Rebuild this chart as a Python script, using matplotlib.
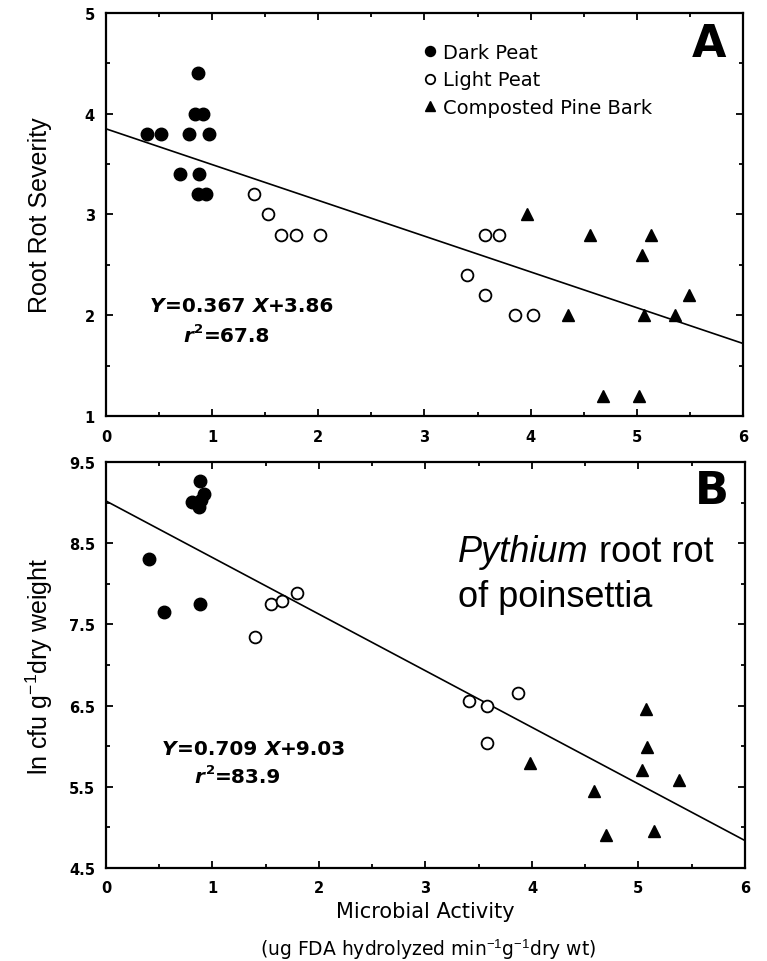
import matplotlib.pyplot as plt
import numpy as np

plt.rcParams['mathtext.fontset'] = 'custom'
plt.rcParams['mathtext.rm'] = 'Liberation Sans'
plt.rcParams['mathtext.it'] = 'Liberation Sans:italic'
plt.rcParams['mathtext.bf'] = 'Liberation Sans:bold'

# panel A: root rot severity vs microbial activity
dark_a_x = [0.39, 0.52, 0.78, 0.97, 0.84, 0.91, 0.87, 0.70, 0.875, 0.87, 0.94]
dark_a_y = [3.8, 3.8, 3.8, 3.8, 4.0, 4.0, 4.4, 3.4, 3.4, 3.2, 3.2]
light_a_x = [1.39, 1.53, 1.65, 1.79, 2.02, 3.57, 3.70, 3.40, 3.57, 3.85, 4.02]
light_a_y = [3.2, 3.0, 2.8, 2.8, 2.8, 2.8, 2.8, 2.4, 2.2, 2.0, 2.0]
bark_a_x = [3.97, 4.56, 5.13, 5.05, 5.49, 4.35, 5.07, 5.36, 4.68, 5.02]
bark_a_y = [3.0, 2.8, 2.8, 2.6, 2.2, 2.0, 2.0, 2.0, 1.2, 1.2]
fit_a = (3.85, -0.355)

# panel B: ln cfu per g dry weight vs microbial activity
dark_b_x = [0.885, 0.81, 0.92, 0.87, 0.89, 0.405, 0.546, 0.885]
dark_b_y = [9.27, 9.01, 9.11, 8.94, 9.03, 8.31, 7.65, 7.75]
light_b_x = [1.40, 1.545, 1.65, 1.795, 3.41, 3.58, 3.58, 3.87]
light_b_y = [7.34, 7.75, 7.79, 7.89, 6.56, 6.49, 6.04, 6.65]
bark_b_x = [5.07, 5.08, 5.03, 5.38, 3.98, 4.58, 4.70, 5.15]
bark_b_y = [6.46, 5.99, 5.71, 5.58, 5.79, 5.45, 4.90, 4.96]
fit_b = (9.02, -0.697)

series_labels = ['Dark Peat', 'Light Peat', 'Composted Pine Bark']
x_ticks = [0, 1, 2, 3, 4, 5, 6]
a_yticks = [1, 2, 3, 4, 5]
b_yticks = [4.5, 5.5, 6.5, 7.5, 8.5, 9.5]

fig = plt.figure(figsize=(7.67, 9.62), dpi=100)
ax_a = fig.add_axes([0.1382, 0.5665, 0.8305, 0.419])
ax_b = fig.add_axes([0.1382, 0.0967, 0.8330, 0.422])


def draw_points(ax, dx, dy, lx, ly, tx, ty, fit):
    h1, = ax.plot(dx, dy, 'o', ms=9, color='black', ls='none')
    h2, = ax.plot(lx, ly, 'o', ms=8.5, mfc='white', mec='black', mew=1.3, ls='none')
    h3, = ax.plot(tx, ty, '^', ms=9, color='black', ls='none')
    xs = np.array([0, 6])
    ax.plot(xs, fit[0] + fit[1] * xs, color='black', lw=1.2, zorder=1)
    return [h1, h2, h3]


def style_axes(ax, yticks, ylo, yhi):
    ax.set_xlim(0, 6)
    ax.set_ylim(ylo, yhi)
    ax.set_xticks(x_ticks)
    ax.set_xticks(np.arange(0.5, 6, 1.0), minor=True)
    ax.set_yticks(yticks)
    ax.set_yticks(np.array(yticks[:-1]) + 0.5, minor=True)
    ax.tick_params(which='both', direction='in', top=True, right=True,
                   width=1.3, labelsize=10.5)
    ax.tick_params(which='major', length=5)
    ax.tick_params(which='minor', length=3)
    ax.tick_params(axis='x', pad=9)
    ax.tick_params(axis='y', pad=8)
    for lab in ax.get_xticklabels() + ax.get_yticklabels():
        lab.set_fontweight('bold')
    for sp in ax.spines.values():
        sp.set_linewidth(1.6)


def equation(ax, x, y, x2, y2, slope, icpt, r2):
    fs = 14.5
    kw = dict(fontsize=fs, fontweight='bold', va='bottom')
    t = ax.text(x, y, 'Y', transform=ax.transAxes, style='italic', **kw)
    t = ax.annotate('=' + slope + ' ', xy=(1, 0), xycoords=t, **kw)
    t = ax.annotate('X', xy=(1, 0), xycoords=t, style='italic', **kw)
    ax.annotate('+' + icpt, xy=(1, 0), xycoords=t, **kw)
    r = ax.text(x2, y2, 'r', transform=ax.transAxes, style='italic', **kw)
    sup = ax.annotate('2', xy=(1.15, 0.55), xycoords=r, fontsize=9.5,
                      fontweight='bold', va='bottom')
    ax.annotate('=' + r2, xy=(1, 0), xycoords=(sup, r), **kw)


handles = draw_points(ax_a, dark_a_x, dark_a_y, light_a_x, light_a_y,
                      bark_a_x, bark_a_y, fit_a)
draw_points(ax_b, dark_b_x, dark_b_y, light_b_x, light_b_y,
            bark_b_x, bark_b_y, fit_b)
style_axes(ax_a, a_yticks, 1, 5)
style_axes(ax_b, b_yticks, 4.5, 9.5)

ax_a.legend(handles, series_labels, loc='upper left', bbox_to_anchor=(0.50, 0.925),
            frameon=False, handlelength=0.6, handletextpad=0.35,
            labelspacing=0.42, borderpad=0, borderaxespad=0, fontsize=14,
            markerscale=0.8)

equation(ax_a, 0.069, 0.25, 0.121, 0.176, '0.367', '3.86', '67.8')
equation(ax_b, 0.088, 0.271, 0.138, 0.202, '0.709', '9.03', '83.9')

ax_a.text(0.947, 0.923, 'A', transform=ax_a.transAxes, fontsize=32,
          fontweight='bold', ha='center', va='center')
ax_b.text(0.948, 0.931, 'B', transform=ax_b.transAxes, fontsize=32,
          fontweight='bold', ha='center', va='center')

p = ax_b.text(0.551, 0.756, 'Pythium', transform=ax_b.transAxes, fontsize=26,
              family='Liberation Sans', style='italic', va='baseline')
ax_b.annotate(' root rot', xy=(1, 0), xycoords=p, fontsize=26,
              family='Liberation Sans', va='bottom')
ax_b.text(0.551, 0.645, 'of poinsettia', transform=ax_b.transAxes, fontsize=26,
          family='Liberation Sans', va='baseline')

ax_a.set_ylabel('Root Rot Severity', fontsize=18, family='Liberation Sans')
ax_a.yaxis.set_label_coords(-0.085, 0.5)
ax_b.set_ylabel('ln cfu g$^{-1}$dry weight', fontsize=18, family='Liberation Sans')
ax_b.yaxis.set_label_coords(-0.08, 0.5)

fig.text(425 / 767, 1 - 912 / 962, 'Microbial Activity', fontsize=15,
         ha='center', va='center')
fig.text(428 / 767, 1 - 950 / 962,
         '(ug FDA hydrolyzed min$^{-1}$g$^{-1}$dry wt)', fontsize=13.5,
         ha='center', va='center')

fig.savefig('out.png', dpi=100)
